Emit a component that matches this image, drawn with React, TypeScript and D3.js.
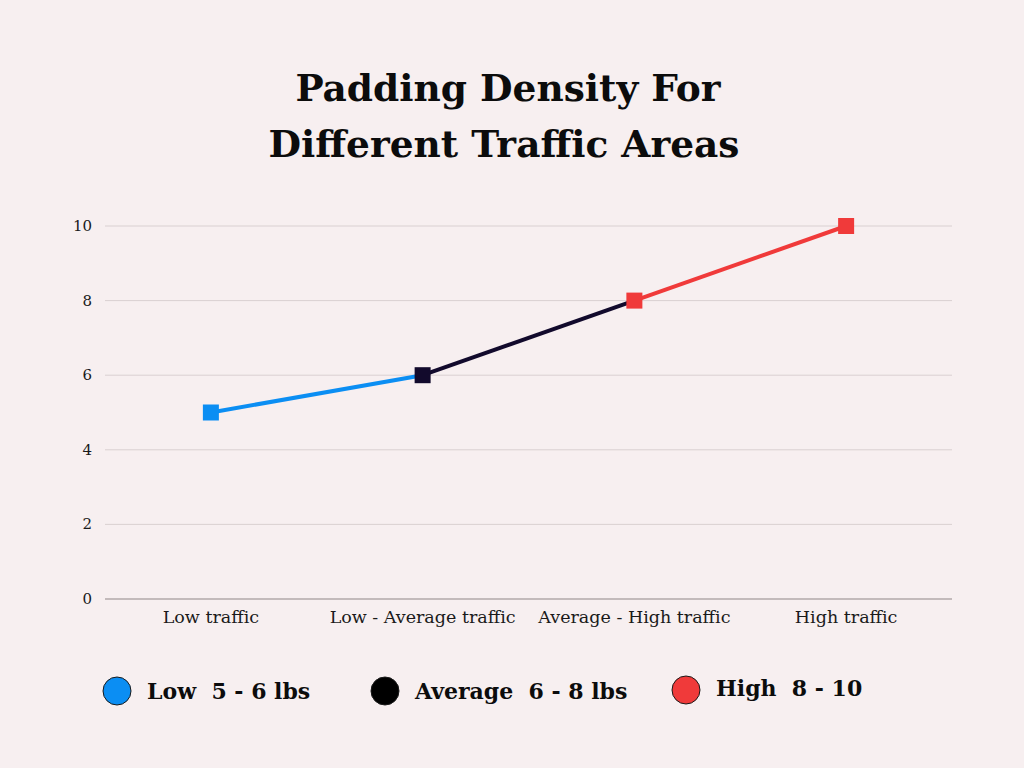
import React from "react";
import * as d3 from "d3";

const categories = ["Low traffic", "Low - Average traffic", "Average - High traffic", "High traffic"];
const values = [5, 6, 8, 10];
const pointColors = ["#0b8ef3", "#120a2c", "#f03a3a", "#f03a3a"];
const segmentColors = ["#0b8ef3", "#120a2c", "#f03a3a"];
const yTicks = [0, 2, 4, 6, 8, 10];
const legendLabels = ["Low  5 - 6 lbs", "Average  6 - 8 lbs", "High  8 - 10"];
const legendColors = ["#0b8ef3", "#000000", "#f03a3a"];

const W = 1024;
const H = 768;
const serif = "'DejaVu Serif', 'Liberation Serif', serif";

export default function App() {
  const x = d3.scalePoint<string>().domain(categories).range([105, 952]).padding(0.5);
  const y = d3.scaleLinear().domain([0, 10]).range([599, 226]);
  const line = d3
    .line<{ c: string; v: number }>()
    .x((d) => x(d.c)!)
    .y((d) => y(d.v));

  const legendX = [117, 385, 686];
  const legendY = [691, 691, 690];
  const legendTextY = [699, 699, 696];

  return (
    <svg width={W} height={H} style={{ position: "absolute", left: 0, top: 0 }}>
      <rect width={W} height={H} fill="#f7eff0" />
      <text x={508} y={101} textAnchor="middle" fontFamily={serif} fontWeight="bold" fontSize={37.5} fill="#0c0c0c">
        Padding Density For
      </text>
      <text x={504} y={157} textAnchor="middle" fontFamily={serif} fontWeight="bold" fontSize={37.5} fill="#0c0c0c">
        Different Traffic Areas
      </text>
      {yTicks.map((t) => (
        <g key={t}>
          <line x1={105} x2={952} y1={y(t)} y2={y(t)} stroke={t === 0 ? "#8f8586" : "#d9d0d1"} strokeWidth={1} />
          <text x={92} y={y(t) + 5} textAnchor="end" fontFamily={serif} fontSize={15} fill="#1a1a1a">
            {t}
          </text>
        </g>
      ))}
      {categories.map((c) => (
        <text key={c} x={x(c)} y={623} textAnchor="middle" fontFamily={serif} fontSize={17.5} fill="#1a1a1a">
          {c}
        </text>
      ))}
      {segmentColors.map((col, i) => (
        <path
          key={i}
          d={line([
            { c: categories[i], v: values[i] },
            { c: categories[i + 1], v: values[i + 1] },
          ])!}
          stroke={col}
          strokeWidth={4}
          fill="none"
        />
      ))}
      {values.map((v, i) => (
        <rect key={i} x={x(categories[i])! - 8} y={y(v) - 8} width={16} height={16} fill={pointColors[i]} />
      ))}
      {legendLabels.map((l, i) => (
        <g key={l}>
          <circle cx={legendX[i]} cy={legendY[i]} r={14} fill={legendColors[i]} stroke="#1a1a1a" strokeWidth={1} />
          <text
            x={legendX[i] + 30}
            y={legendTextY[i]}
            fontFamily={serif}
            fontWeight="bold"
            fontSize={22}
            fill="#0c0c0c"
            style={{ whiteSpace: "pre" }}
          >
            {l}
          </text>
        </g>
      ))}
    </svg>
  );
}
